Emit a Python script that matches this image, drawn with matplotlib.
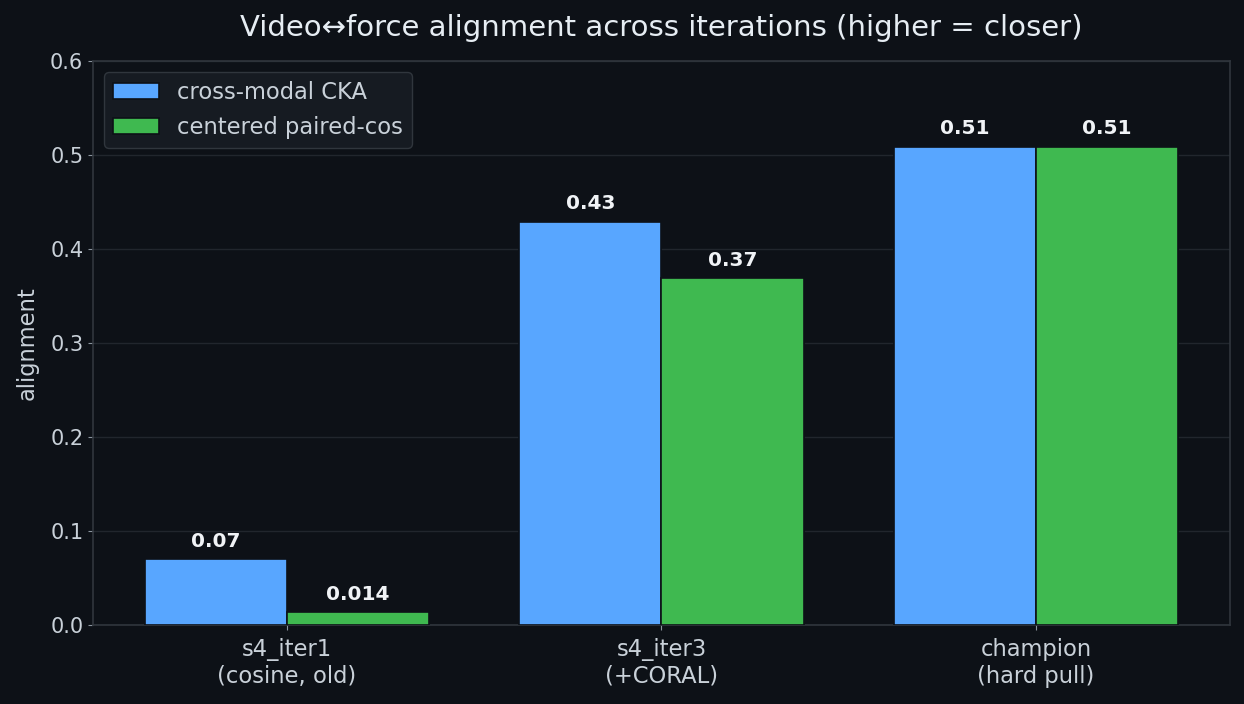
import matplotlib
matplotlib.use("Agg")
import matplotlib.pyplot as plt
import numpy as np

categories = ["s4_iter1\n(cosine, old)", "s4_iter3\n(+CORAL)", "champion\n(hard pull)"]
cka = [0.07, 0.429, 0.509]
paired_cos = [0.014, 0.369, 0.509]
series_names = ["cross-modal CKA", "centered paired-cos"]

BG = "#0d1117"
fig = plt.figure(figsize=(12.44, 7.04), dpi=100, facecolor=BG)
ax = fig.add_axes([0.0748, 0.1122, 0.9139, 0.8012])
ax.set_facecolor(BG)

x = np.arange(len(categories))
w = 0.38
b1 = ax.bar(x - w/2, cka, w, color="#58a6ff", edgecolor=BG, linewidth=1.2, label=series_names[0], zorder=3)
b2 = ax.bar(x + w/2, paired_cos, w, color="#3fb950", edgecolor=BG, linewidth=1.2, label=series_names[1], zorder=3)

for bars, vals in ((b1, cka), (b2, paired_cos)):
    for r, v in zip(bars, vals):
        ax.annotate(f"{v:.2g}", (r.get_x() + r.get_width()/2, v), xytext=(0, 6),
                    textcoords="offset points", ha="center", va="bottom",
                    color="#f0f3f6", fontsize=14.5, fontweight="bold")

ax.set_ylim(0, 0.6)
ax.set_xticks(x)
ax.set_xticklabels(categories)
ax.tick_params(colors="#c9d1d9")
ax.tick_params(axis="both", color="#8b949e")
ax.tick_params(axis="x", labelsize=16.3, pad=6)
ax.tick_params(axis="y", labelsize=15)
ax.set_ylabel("alignment", color="#c9d1d9", fontsize=16.3, labelpad=8)
ax.set_title("Video\u2194force alignment across iterations (higher = closer)", color="#e6edf3", fontsize=21, pad=18)
ax.yaxis.grid(True, color="#21262d", linewidth=1, zorder=0)
ax.set_axisbelow(True)
for s in ax.spines.values():
    s.set_color("#30363d")
    s.set_linewidth(1.2)

leg = ax.legend(loc="upper left", fontsize=16.3, facecolor="#161b22", edgecolor="#30363d", framealpha=1)
for t in leg.get_texts():
    t.set_color("#c9d1d9")

fig.savefig("out.png", dpi=100, facecolor=BG)
